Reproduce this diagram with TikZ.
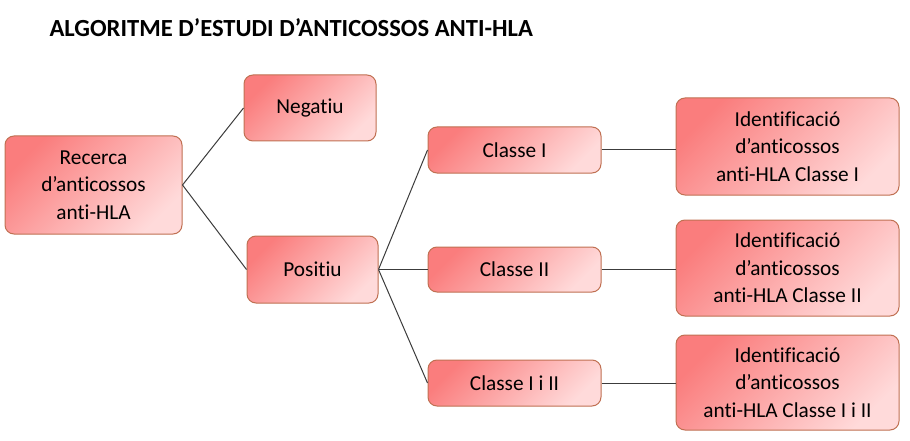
\documentclass[tikz,border=0pt]{standalone}
\usepackage{fontspec}
\setmainfont{Carlito}[Ligatures=NoCommon]
\definecolor{boxdark}{RGB}{250,125,125}
\definecolor{boxlight}{RGB}{255,218,218}
\definecolor{boxline}{RGB}{192,112,82}
\definecolor{linkgray}{RGB}{60,60,60}

\begin{document}
\begin{tikzpicture}[x=1pt,y=-1pt,
		box/.style={draw=boxline, line width=1pt, rounded corners=9pt, shading=axis, top color=boxdark, bottom color=boxlight, shading angle=45, align=center, inner sep=0pt, font=\fontsize{21.3}{27.5}\selectfont},
		link/.style={draw=linkgray, line width=1pt}]
				\useasboundingbox (0,0) rectangle (910,441);
				
				\node[anchor=west, font=\bfseries\fontsize{24.6}{28}\selectfont] (title) at (46,28) {ALGORITME D'ESTUDI D'ANTICOSSOS ANTI-HLA};
				
				\node[box, minimum width=177pt, minimum height=98pt] (recerca) at (93.5,185) {Recerca\\d'anticossos\\anti-HLA};
				\node[box, minimum width=132pt, minimum height=66pt] (negatiu) at (310,108) {Negatiu};
				\node[box, minimum width=131pt, minimum height=67pt] (positiu) at (312.5,269.5) {Positiu};
				
				\node[box, minimum width=173pt, minimum height=46pt] (classeI) at (514.5,150) {Classe I};
				\node[box, minimum width=173pt, minimum height=45pt] (classeII) at (514.5,269.5) {Classe II};
				\node[box, minimum width=173pt, minimum height=46pt] (classeIiII) at (514.5,383) {Classe I i II};
				
				\node[box, minimum width=223pt, minimum height=97pt] (identI) at (787.5,146.5) {Identificació\\d'anticossos\\anti-HLA Classe I};
				\node[box, minimum width=223pt, minimum height=96pt] (identII) at (787.5,268) {Identificació\\d'anticossos\\anti-HLA Classe II};
				\node[box, minimum width=223pt, minimum height=95pt] (identIiII) at (787.5,382.5) {Identificació\\d'anticossos\\anti-HLA Classe I i II};
				
				\draw[link] (recerca.east) -- (negatiu.west);
				\draw[link] (recerca.east) -- (positiu.west);
				\draw[link] (positiu.east) -- (classeI.west);
				\draw[link] (positiu.east) -- (classeII.west);
				\draw[link] (positiu.east) -- (classeIiII.west);
				\draw[link] (classeI.east) -- (identI.west |- classeI.east);
				\draw[link] (classeII.east) -- (identII.west |- classeII.east);
				\draw[link] (classeIiII.east) -- (identIiII.west |- classeIiII.east);
			\end{tikzpicture}
\end{document}
